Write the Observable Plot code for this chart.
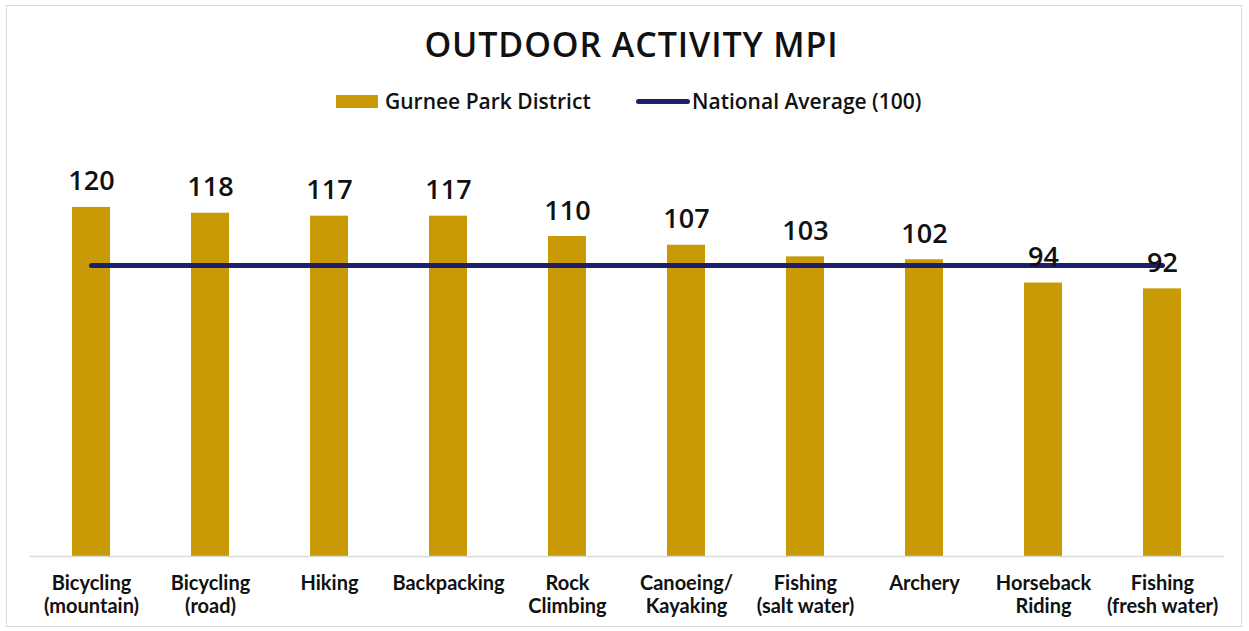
<!DOCTYPE html>
<html>
<head>
<meta charset="utf-8">
<script src="https://cdn.jsdelivr.net/npm/d3@7"></script>
<script src="https://cdn.jsdelivr.net/npm/@observablehq/plot@0.6"></script>
<style>
  html, body { margin: 0; padding: 0; background: #fff; }
  body { width: 1249px; height: 631px; position: relative; overflow: hidden; font-family: "Open Sans", sans-serif; }
  #frame { position: absolute; left: 6px; top: 5px; width: 1236px; height: 622px; border: 1px solid #d9d9d9; box-sizing: border-box; }
  #title { position: absolute; left: 7px; width: 1249px; top: 21px; text-align: center; font-size: 34px; font-weight: 600; color: #111; letter-spacing: 0.9px; }
  #legend { position: absolute; left: 0; top: 88px; width: 1249px; height: 26px; }
  .li { position: absolute; top: 0; display: flex; align-items: center; height: 26px; font-size: 21px; font-weight: 600; color: #111; }
  .sw-bar { width: 42px; height: 13px; background: #C89A05; margin-right: 7px; }
  .sw-line { width: 54px; height: 5px; border-radius: 3px; background: #1E1F6C; margin-right: 2px; }
  #chart { position: absolute; left: 0; top: 140px; }
</style>
</head>
<body>
<div id="frame"></div>
<div id="title">OUTDOOR ACTIVITY MPI</div>
<div id="legend">
  <div class="li" style="left:336px"><div class="sw-bar"></div><span id="l1"></span></div>
  <div class="li" style="left:636px"><div class="sw-line"></div><span id="l2"></span></div>
</div>
<div id="chart"></div>
<script>
const categories = [
  "Bicycling\n(mountain)",
  "Bicycling\n(road)",
  "Hiking",
  "Backpacking",
  "Rock\nClimbing",
  "Canoeing/\nKayaking",
  "Fishing\n(salt water)",
  "Archery",
  "Horseback\nRiding",
  "Fishing\n(fresh water)"
];
const districtValues = [120, 118, 117, 117, 110, 107, 103, 102, 94, 92];
const nationalAverage = [100, 100, 100, 100, 100, 100, 100, 100, 100, 100];
const seriesNames = ["Gurnee Park District", "National Average (100)"];

document.getElementById("l1").textContent = seriesNames[0];
document.getElementById("l2").textContent = seriesNames[1];

const rows = categories.map((c, i) => ({cat: c, value: districtValues[i], avg: nationalAverage[i]}));

const chart = Plot.plot({
  width: 1249,
  height: 491,
  marginLeft: 30,
  marginRight: 25,
  marginTop: 0,
  marginBottom: 75,
  style: {background: "transparent", fontFamily: "Open Sans, sans-serif"},
  x: {domain: categories, paddingInner: 0.68, paddingOuter: 0.34, label: null},
  y: {domain: [0, 143], axis: null},
  marks: [
    Plot.barY(rows, {x: "cat", y: "value", fill: "#C89A05"}),
    Plot.ruleY([0], {stroke: "#d9d9d9", strokeWidth: 1.5}),
    Plot.lineY(rows, {x: "cat", y: "avg", stroke: "#1E1F6C", strokeWidth: 5, strokeLinecap: "round"}),
    Plot.text(rows, {x: "cat", y: "value", text: d => String(d.value), lineAnchor: "bottom", dy: -17, fontSize: 27, fontWeight: 600, fill: "#111", fontFamily: "Open Sans"}),
    Plot.axisX({tickSize: 0, tickPadding: 17, fontSize: 20, lineHeight: 1.15, fontWeight: 700, fontFamily: "Lato", fill: "#111", label: null})
  ]
});
document.getElementById("chart").appendChild(chart);
</script>
</body>
</html>
